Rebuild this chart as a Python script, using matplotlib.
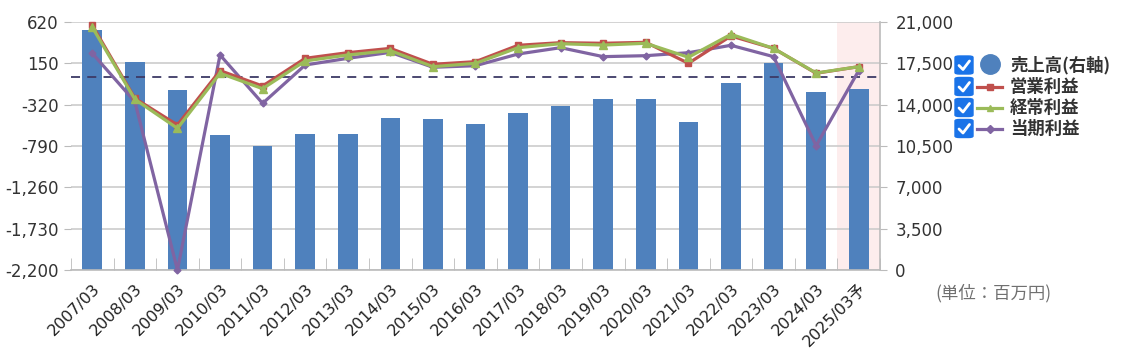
import matplotlib
matplotlib.use("Agg")
import matplotlib.pyplot as plt
from matplotlib.patches import FancyBboxPatch
from matplotlib.lines import Line2D
import numpy as np

plt.rcParams['font.family'] = ['DejaVu Sans', 'Noto Sans CJK JP']

categories = ["2007/03", "2008/03", "2009/03", "2010/03", "2011/03", "2012/03",
              "2013/03", "2014/03", "2015/03", "2016/03", "2017/03", "2018/03",
              "2019/03", "2020/03", "2021/03", "2022/03", "2023/03", "2024/03",
              "2025/03予"]
sales = [20300, 17600, 15200, 11400, 10500, 11500, 11500, 12900, 12800,
         12400, 13300, 13900, 14450, 14450, 12500, 15850, 17500, 15050, 15350]
op_profit = [582, -248, -551, 67, -108, 207, 271, 320, 139,
             169, 355, 385, 378, 389, 150, 461, 320, 37, 112]
ord_profit = [560, -259, -589, 37, -138, 177, 245, 294, 112,
              150, 328, 373, 358, 378, 219, 480, 320, 40, 112]
net_profit = [264, -286, -2200, 245, -305, 131, 207, 275, 105,
              123, 256, 328, 226, 237, 271, 355, 226, -787, 67]

left_ticks = [620, 150, -320, -790, -1260, -1730, -2200]
right_ticks = [0, 3500, 7000, 10500, 14000, 17500, 21000]

BAR = '#4f81bd'
RED = '#c0504d'
GREEN = '#9bbb59'
PURPLE = '#8064a2'
TXT = '#333333'
GRID = '#cccccc'

W, H = 1138, 355
fig = plt.figure(figsize=(W / 100, H / 100), dpi=100)

def fx(x):
    return x / W

def fy(y):
    return 1 - y / H

x0, x1, y0, y1 = 71, 880, 22, 270
ax = fig.add_axes([fx(x0), fy(y1), fx(x1) - fx(x0), fy(y0) - fy(y1)])
n = len(categories)
x = np.arange(n)

# bars on right axis
ax.set_xlim(-0.5, n - 0.5)
ax.set_ylim(0, 21000)
ax.axvspan(n - 1.5, n - 0.5, color='#fdeded', zorder=0, lw=0)
for t in right_ticks:
    ax.axhline(t, color=GRID, lw=1.2, zorder=0.5)
ax.bar(x, sales, width=0.46, color=BAR, zorder=2)
ax.set_xticks(x)
ax.set_xticklabels(categories, rotation=45, ha='right', rotation_mode='anchor',
                   fontsize=11.5, color='#222222')
ax.tick_params(axis='x', length=0, pad=8)
ax.set_xticks(np.arange(n + 1) - 0.5, minor=True)
ax.tick_params(axis='x', which='minor', direction='in', length=9, color='#bbbbbb')
for s in ['top', 'left']:
    ax.spines[s].set_visible(False)
for s in ['right', 'bottom']:
    ax.spines[s].set_color('#bbbbbb')
    ax.spines[s].set_linewidth(1.2)

# lines on left axis
axl = ax.twinx()
axl.set_zorder(ax.get_zorder() + 1)
axl.patch.set_visible(False)
axl.yaxis.tick_left()
axl.set_ylim(-2200, 620)
axl.set_yticks(left_ticks)
axl.set_yticklabels([f"{v:,}" for v in left_ticks], fontsize=12, color=TXT)
axl.tick_params(axis='y', direction='out', length=5, color='#bbbbbb', pad=4)
for s in ['top', 'left', 'right', 'bottom']:
    axl.spines[s].set_visible(False)

# right axis ticks (after twinx, which resets them)
ax.yaxis.tick_right()
ax.set_yticks(right_ticks)
ax.set_yticklabels([f"{v:,}" for v in right_ticks], fontsize=12, color=TXT)
ax.tick_params(axis='y', direction='out', length=5, color='#bbbbbb', pad=6)

axl.axhline(0, color='#3d3a66', lw=1.3, ls=(0, (5, 4)), zorder=1)
axl.plot(x, net_profit, color=PURPLE, lw=2.3, marker='D', ms=3.5, zorder=3, clip_on=False)
axl.plot(x, op_profit, color=RED, lw=2.3, marker='s', ms=4.5, zorder=4, clip_on=False)
axl.plot(x, ord_profit, color=GREEN, lw=2.3, marker='^', ms=5.5, zorder=5, clip_on=False)

# legend (drawn manually to mimic checkbox legend)
rows = [("売上高(右軸)", 'circle', BAR, None),
        ("営業利益", 'line', RED, 's'),
        ("経常利益", 'line', GREEN, '^'),
        ("当期利益", 'line', PURPLE, 'D')]
ys = [65, 86.5, 107.5, 128.5]
for (label, kind, col, mk), yy in zip(rows, ys):
    box = FancyBboxPatch((fx(955), fy(yy + 9)), fx(18), 18 / H,
                         boxstyle="round,pad=0,rounding_size=0.004",
                         transform=fig.transFigure, facecolor='#1a73e8',
                         edgecolor='#1a73e8', figure=fig)
    fig.patches.append(box)
    fig.lines.append(Line2D([fx(959), fx(963), fx(969.5)],
                            [fy(yy + 0.5), fy(yy + 4.5), fy(yy - 4)],
                            transform=fig.transFigure, color='white', lw=2,
                            solid_capstyle='round', solid_joinstyle='round'))
    if kind == 'circle':
        fig.lines.append(Line2D([fx(990)], [fy(yy - 1)], transform=fig.transFigure,
                                color=col, marker='o', ms=14, lw=0))
    else:
        fig.lines.append(Line2D([fx(977), fx(1002)], [fy(yy), fy(yy)],
                                transform=fig.transFigure, color=col, lw=2.3))
        fig.lines.append(Line2D([fx(989.5)], [fy(yy)], transform=fig.transFigure,
                                color=col, marker=mk, ms=4.5, lw=0))
    fig.text(fx(1010), fy(yy), label, fontsize=12.5, fontweight='bold',
             color='#333333', va='center', ha='left',
             family=['Noto Sans CJK JP', 'DejaVu Sans'])

fig.text(fx(993), fy(293), "(単位：百万円)", fontsize=12.5, color='#707070',
         ha='center', va='center', family=['Noto Sans CJK JP', 'DejaVu Sans'])

fig.savefig("out.png", dpi=100)
